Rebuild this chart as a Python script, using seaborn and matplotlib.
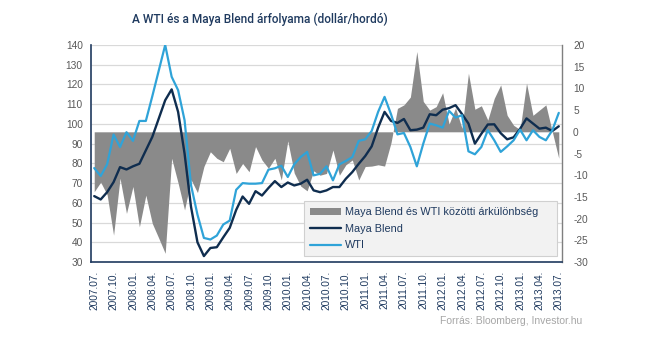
import matplotlib
matplotlib.use("Agg")
import matplotlib.pyplot as plt
import matplotlib.transforms as mtransforms
from matplotlib.patches import Patch
from matplotlib.lines import Line2D
import seaborn as sns
import pandas as pd

tick_labels = ["2007.07.", "2007.10.", "2008.01.", "2008.04.", "2008.07.", "2008.10.",
               "2009.01.", "2009.04.", "2009.07.", "2009.10.", "2010.01.", "2010.04.",
               "2010.07.", "2010.10.", "2011.01.", "2011.04.", "2011.07.", "2011.10.",
               "2012.01.", "2012.04.", "2012.07.", "2012.10.", "2013.01.", "2013.04.",
               "2013.07."]

wti = [77.6, 73.6, 79.5, 94.6, 88.3, 95.8, 91.4, 101.5, 101.5, 114.0, 127.0, 140.0, 123.9,
       117.1, 101.9, 69.0, 54.0, 42.2, 41.4, 43.4, 49.0, 51.0, 66.6, 70.0, 69.7, 69.7, 70.0,
       76.8, 77.5, 78.8, 73.1, 79.5, 83.2, 85.8, 73.9, 74.7, 78.5, 71.4, 79.5, 81.2, 83.2,
       91.4, 92.2, 96.4, 106.1, 113.7, 104.9, 94.7, 95.4, 88.3, 78.5, 90.0, 100.2, 99.3,
       98.1, 106.6, 103.2, 104.4, 86.1, 84.6, 88.3, 96.8, 91.7, 85.8, 88.6, 91.7, 97.1,
       91.7, 96.8, 93.4, 91.7, 96.8, 105.6]

maya = [63.4, 61.7, 65.4, 70.5, 78.1, 76.9, 78.5, 79.8, 86.6, 93.4, 102.7, 112.0, 117.5,
        106.1, 85.0, 58.0, 40.0, 33.0, 37.1, 37.5, 42.5, 47.3, 56.4, 63.2, 59.5, 65.9, 63.7,
        67.5, 71.0, 68.0, 70.3, 68.8, 69.7, 71.7, 66.3, 65.4, 66.3, 68.0, 68.0, 72.2, 75.6,
        79.8, 83.7, 88.6, 98.1, 106.1, 101.5, 100.5, 102.5, 96.8, 97.1, 98.1, 104.9, 104.4,
        107.2, 108.0, 109.5, 105.0, 100.2, 90.0, 95.0, 99.7, 99.8, 95.3, 92.2, 93.2, 97.5,
        102.8, 100.2, 97.6, 98.1, 96.4, 98.8]

spread = [-13.8, -11.6, -14.5, -23.8, -10.7, -18.8, -12.6, -21.9, -14.6, -21.1, -24.5, -28.0,
          -6.1, -11.8, -18.0, -11.0, -14.0, -8.0, -4.6, -6.1, -6.9, -3.8, -9.6, -7.3, -9.2,
          -3.4, -6.5, -8.4, -6.1, -11.1, -2.1, -9.5, -12.5, -13.6, -9.0, -10.0, -9.6, -4.2,
          -10.0, -7.6, -6.5, -11.1, -8.0, -7.9, -7.6, -7.9, -2.5, 5.4, 6.2, 8.0, 18.5, 7.0,
          5.0, 5.8, 9.0, 1.8, 5.5, 0.8, 13.5, 5.2, 6.0, 2.7, 7.7, 10.8, 3.8, 1.5, 0.5, 11.2,
          3.8, 5.0, 6.2, 0.0, -6.1]

left_ticks = list(range(30, 141, 10))
right_ticks = list(range(-30, 21, 5))

NAVY = "#0f2d4f"
BLUE = "#2fa3d8"
GRAY = "#8a8a8a"
TXT = "#1f3a5f"
TICKGRAY = "#595959"

sns.set_style("white")
plt.rcParams["font.family"] = ["Liberation Sans", "DejaVu Sans"]

n = len(wti)
df = pd.DataFrame({"idx": list(range(n)), "WTI": wti, "Maya Blend": maya, "spread": spread})

fig = plt.figure(figsize=(6.45, 3.4), dpi=100)
ax = fig.add_axes([91 / 645, 1 - 262 / 340, (562 - 91) / 645, (262 - 45) / 340])
ax2 = ax.twinx()
ax.set_zorder(2)
ax2.set_zorder(1)
ax.patch.set_visible(False)
ax2.patch.set_facecolor("white")

ax.set_xlim(-0.5, n - 0.5)
ax.set_ylim(left_ticks[0], left_ticks[-1])
ax2.set_ylim(right_ticks[0], right_ticks[-1])

# gridlines (aligned with left axis), drawn behind the area
trans = mtransforms.blended_transform_factory(ax2.transAxes, ax.transData)
ax2.hlines(left_ticks[1:], 0, 1, transform=trans, color="#d9d9d9", lw=0.9, zorder=0)

area = ax2.fill_between(df["idx"], 0, df["spread"], color=GRAY, linewidth=0, zorder=1)

sns.lineplot(data=df, x="idx", y="Maya Blend", ax=ax, color=NAVY, lw=1.7, legend=False)
sns.lineplot(data=df, x="idx", y="WTI", ax=ax, color=BLUE, lw=1.6, legend=False)

ax.set_xlabel("")
ax.set_ylabel("")
ax2.set_ylabel("")
ax.set_xticks(list(range(0, n, 3)))
ax.set_xticklabels(tick_labels, rotation=90, fontsize=7.3, color=TXT)
ax.set_yticks(left_ticks)
ax.set_yticklabels([str(t) for t in left_ticks], fontsize=7.3, color=TICKGRAY)
ax2.set_yticks(right_ticks)
ax2.set_yticklabels([str(t) for t in right_ticks], fontsize=7.3, color=TICKGRAY)
ax.tick_params(axis="x", length=0, pad=6)
ax.tick_params(axis="y", length=0, pad=6)
ax2.tick_params(axis="y", length=0, pad=8)

for a in (ax, ax2):
    a.spines["top"].set_visible(False)
ax.spines["left"].set_color(TXT)
ax.spines["bottom"].set_color(TXT)
ax.spines["right"].set_visible(False)
ax2.spines["left"].set_visible(False)
ax2.spines["bottom"].set_visible(False)
ax2.spines["right"].set_color("#7f7f7f")
for s in ("left", "bottom"):
    ax.spines[s].set_linewidth(1.2)
ax2.spines["right"].set_linewidth(1.0)

handles = [Patch(facecolor=GRAY, edgecolor="none"),
           Line2D([0], [0], color=NAVY, lw=1.7),
           Line2D([0], [0], color=BLUE, lw=1.6)]
labels = ["Maya Blend és WTI közötti árkülönbség", "Maya Blend", "WTI"]
leg = ax.legend(handles, labels, loc="upper left",
                bbox_to_anchor=(304 / 645, 1 - 201 / 340, (557 - 304) / 645, 0.0),
                bbox_transform=fig.transFigure, mode="expand",
                frameon=True, fancybox=False, framealpha=1, fontsize=7.8,
                handlelength=2.9, handleheight=0.6, labelspacing=0.62, borderpad=0.55,
                handletextpad=0.3, borderaxespad=0)
leg.get_frame().set_facecolor("#f2f2f2")
leg.get_frame().set_edgecolor("#d0d0d0")
leg.get_frame().set_linewidth(0.8)
for t in leg.get_texts():
    t.set_color(TXT)

fig.text(260 / 645, 1 - 19 / 340, "A WTI és a Maya Blend árfolyama (dollár/hordó)",
         ha="center", va="center", fontsize=8.6, color=TXT, family=["Roboto", "DejaVu Sans"],
         fontweight="medium")
fig.text(582 / 645, 1 - 321 / 340, "Forrás: Bloomberg, Investor.hu", ha="right", va="center",
         fontsize=7.5, color="#a6a6a6")

fig.savefig("out.png", dpi=100)
